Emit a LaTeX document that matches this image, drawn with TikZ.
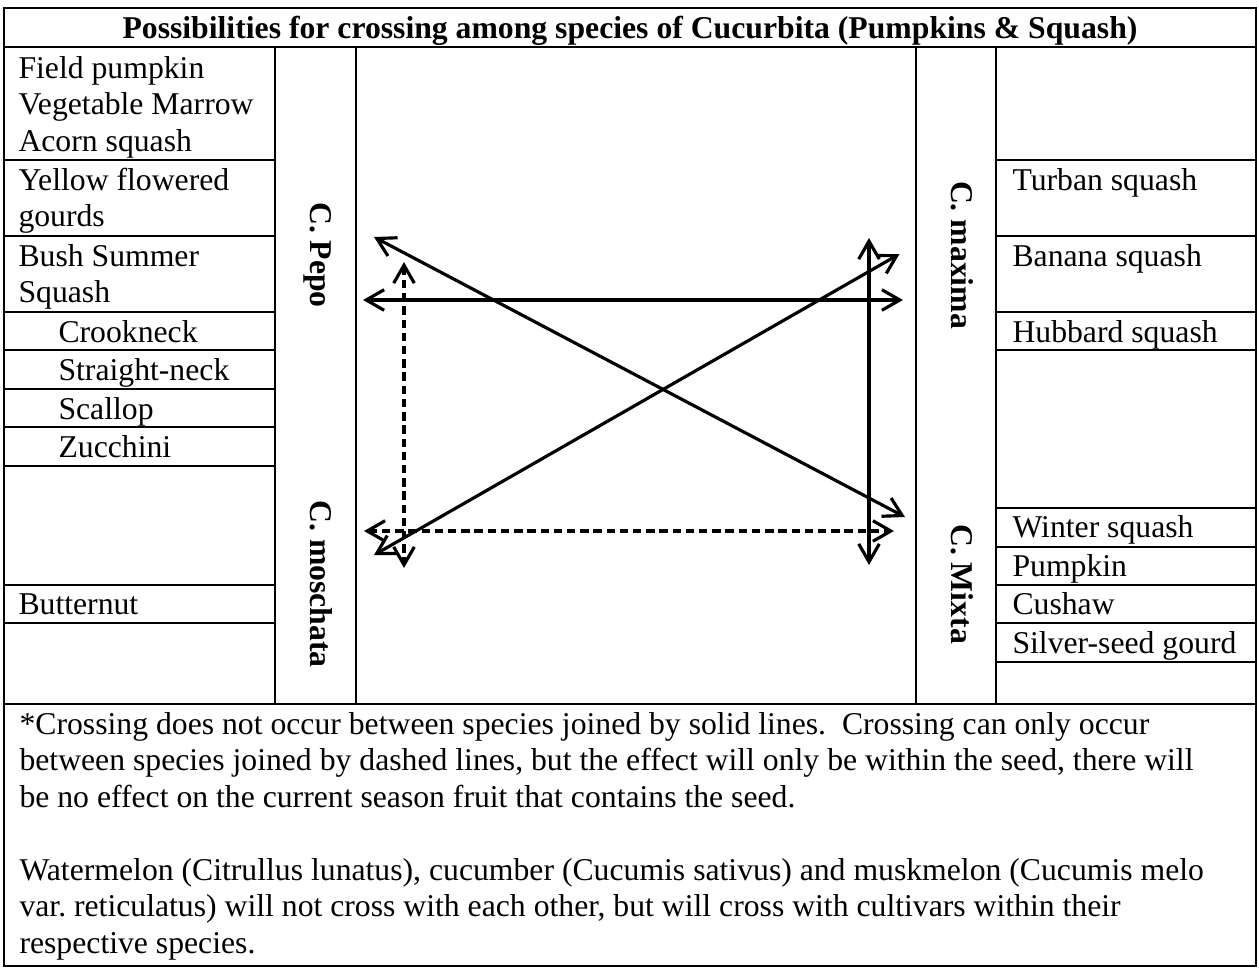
\documentclass[tikz,border=0pt]{standalone}
\usepackage{fontspec}
\setmainfont{Liberation Serif}
\usetikzlibrary{arrows.meta}
\frenchspacing
\begin{document}
\begin{tikzpicture}[x=0.3785pt,y=-0.3785pt,
  grid/.style={line width=0.75pt},
  txt/.style={inner sep=0pt, anchor=base west, font=\fontsize{12}{13.8}\selectfont},
  sp/.style={inner sep=0pt, anchor=base, rotate=-90, font=\fontsize{12}{13.8}\selectfont\bfseries},
  link/.style={line width=1.2pt, {Straight Barb[length=6.8pt,width=7.8pt]}-{Straight Barb[length=6.8pt,width=7.8pt]}},
  dlink/.style={link, dash pattern=on 3.2pt off 1.8pt}]
\useasboundingbox (0,0) rectangle (1259,973);
% table grid
\draw[grid] (4,8) rectangle (1256,966);
\draw[grid] (4,47) -- (1256,47);
\draw[grid] (4,704) -- (1256,704);
\foreach \x in {275,356,916,996} \draw[grid] (\x,47) -- (\x,704);
\foreach \y in {160,236,312,350,389,427,466,585,623} \draw[grid] (4,\y) -- (275,\y);
\foreach \y in {160,236,312,350,508,547,585,623,662} \draw[grid] (996,\y) -- (1256,\y);
% title
\node[txt, anchor=base, font=\fontsize{12}{13.8}\selectfont\bfseries] (title) at (630,38) {Possibilities for crossing among species of Cucurbita (Pumpkins \& Squash)};
% left column
\node[txt] (l1a) at (18,78) {Field pumpkin};
\node[txt] (l1b) at (18,114.5) {Vegetable Marrow};
\node[txt] (l1c) at (18,151) {Acorn squash};
\node[txt] (l2a) at (18,190) {Yellow flowered};
\node[txt] (l2b) at (18,226.5) {gourds};
\node[txt] (l3a) at (18,266) {Bush Summer};
\node[txt] (l3b) at (18,302.5) {Squash};
\node[txt] (l4) at (58,342) {Crookneck};
\node[txt] (l5) at (58,380) {Straight-neck};
\node[txt] (l6) at (58,419) {Scallop};
\node[txt] (l7) at (58,457) {Zucchini};
\node[txt] (l8) at (18,614) {Butternut};
% right column
\node[txt] (r1) at (1012,190) {Turban squash};
\node[txt] (r2) at (1012,266) {Banana squash};
\node[txt] (r3) at (1012,342) {Hubbard squash};
\node[txt] (r4) at (1012,537) {Winter squash};
\node[txt] (r5) at (1012,576) {Pumpkin};
\node[txt] (r6) at (1012,614) {Cushaw};
\node[txt] (r7) at (1012,653) {Silver-seed gourd};
% species labels
\node[sp] (pepo) at (310,255) {C. Pepo};
\node[sp] (moschata) at (310,584) {C. moschata};
\node[sp] (maxima) at (951,255) {C. maxima};
\node[sp] (mixta) at (951,584) {C. Mixta};
% arrow end points
\coordinate (d1s) at (374,237);
\coordinate (d1e) at (905,517);
\coordinate (d2s) at (374,555);
\coordinate (d2e) at (899.5,254);
\coordinate (hss) at (363,300);
\coordinate (hse) at (903,300);
\coordinate (hds) at (364,531);
\coordinate (hde) at (894,531);
\coordinate (vss) at (869,238);
\coordinate (vse) at (869,565);
\coordinate (vds) at (404,262);
\coordinate (vde) at (404,568);
\draw[link] (d1s) -- (d1e);
\draw[link] (d2s) -- (d2e);
\draw[link] (hss) -- (hse);
\draw[link] (vss) -- (vse);
\draw[dlink] (hds) -- (hde);
\draw[dlink] (vds) -- (vde);
% footnote
\node[txt] (f1) at (19,734) {*Crossing does not occur between species joined by solid lines.\ \ Crossing can only occur};
\node[txt] (f2) at (19,770.5) {between species joined by dashed lines, but the effect will only be within the seed, there will};
\node[txt] (f3) at (19,807) {be no effect on the current season fruit that contains the seed.};
\node[txt] (f4) at (19,880) {Watermelon (Citrullus lunatus), cucumber (Cucumis sativus) and muskmelon (Cucumis melo};
\node[txt] (f5) at (19,916.5) {var. reticulatus) will not cross with each other, but will cross with cultivars within their};
\node[txt] (f6) at (19,953) {respective species.};
\end{tikzpicture}
\end{document}
